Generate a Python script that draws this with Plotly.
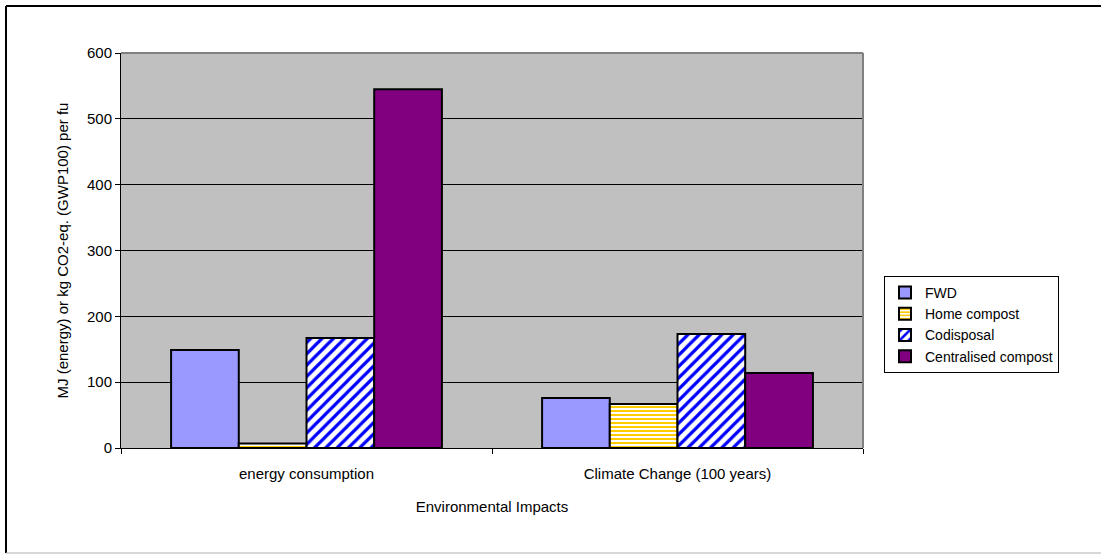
import plotly.graph_objects as go

# Impact categories and per-scenario results
categories = ["energy consumption", "Climate Change (100 years)"]
fwd = [149, 76]
home_compost = [7, 67]
codisposal = [167, 173]
centralised_compost = [545, 114]

FONT = "Liberation Sans, Arial, sans-serif"

fig = go.Figure()

fig.add_trace(go.Bar(
    name="FWD", x=categories, y=fwd,
    marker=dict(color="#9999FF", line=dict(color="black", width=2)),
))
fig.add_trace(go.Bar(
    name="Home compost", x=categories, y=home_compost,
    marker=dict(color="#FFCC00", line=dict(color="black", width=2),
                pattern=dict(shape="-", fgcolor="#FFCC00", bgcolor="white",
                             size=4, solidity=0.5, fillmode="replace")),
))
fig.add_trace(go.Bar(
    name="Codisposal", x=categories, y=codisposal,
    marker=dict(color="#0000FF", line=dict(color="black", width=2),
                pattern=dict(shape="/", fgcolor="#0000FF", bgcolor="white",
                             size=8, solidity=0.4, fillmode="replace")),
))
fig.add_trace(go.Bar(
    name="Centralised compost", x=categories, y=centralised_compost,
    marker=dict(color="#800080", line=dict(color="black", width=2)),
))

W, H = 1101, 554
L, R, T, B = 121, 863, 53, 448


def px_x(x):
    return (x - L) / (R - L)


def px_y(y):
    return (B - y) / (B - T)


shapes = [
    # plot-area border (top and right in gray)
    dict(type="line", xref="paper", yref="paper", x0=0, x1=1, y0=1, y1=1,
         line=dict(color="#808080", width=2)),
    dict(type="line", xref="paper", yref="paper", x0=1, x1=1, y0=0, y1=1,
         line=dict(color="#808080", width=2)),
    # outer chart frame
    dict(type="line", xref="paper", yref="paper", x0=px_x(6), x1=px_x(1101),
         y0=px_y(6), y1=px_y(6), line=dict(color="black", width=2)),
    dict(type="line", xref="paper", yref="paper", x0=px_x(6), x1=px_x(6),
         y0=px_y(6), y1=px_y(553), line=dict(color="black", width=2)),
    dict(type="line", xref="paper", yref="paper", x0=px_x(6), x1=px_x(1101),
         y0=px_y(553), y1=px_y(553), line=dict(color="#B0B0B0", width=1)),
]

fig.update_layout(
    width=W, height=H,
    margin=dict(l=L, r=W - R, t=T, b=H - B, pad=0),
    paper_bgcolor="white",
    plot_bgcolor="#C0C0C0",
    barmode="group",
    bargap=0.27,
    bargroupgap=0,
    font=dict(family=FONT, size=15, color="black"),
    shapes=shapes,
    legend=dict(
        x=px_x(884), y=px_y(276), xanchor="left", yanchor="top",
        bgcolor="white", bordercolor="black", borderwidth=1,
        font=dict(family=FONT, size=14, color="black"),
        itemwidth=30, tracegroupgap=0,
    ),
    xaxis=dict(
        showline=True, linecolor="black", linewidth=1,
        ticks="outside", ticklen=5, tickcolor="black", tickson="boundaries",
        ticklabelstandoff=12,
        title=dict(text="Environmental Impacts", standoff=20,
                   font=dict(family=FONT, size=15)),
        showgrid=False,
    ),
    yaxis=dict(
        range=[0, 600], dtick=100,
        showline=True, linecolor="black", linewidth=1,
        ticks="outside", ticklen=5, tickcolor="black",
        showgrid=True, gridcolor="black", gridwidth=1,
        zeroline=False,
        title=dict(text="MJ (energy) or kg CO2-eq. (GWP100) per fu", standoff=14,
                   font=dict(family=FONT, size=15)),
    ),
)

fig.write_html("out.html")
